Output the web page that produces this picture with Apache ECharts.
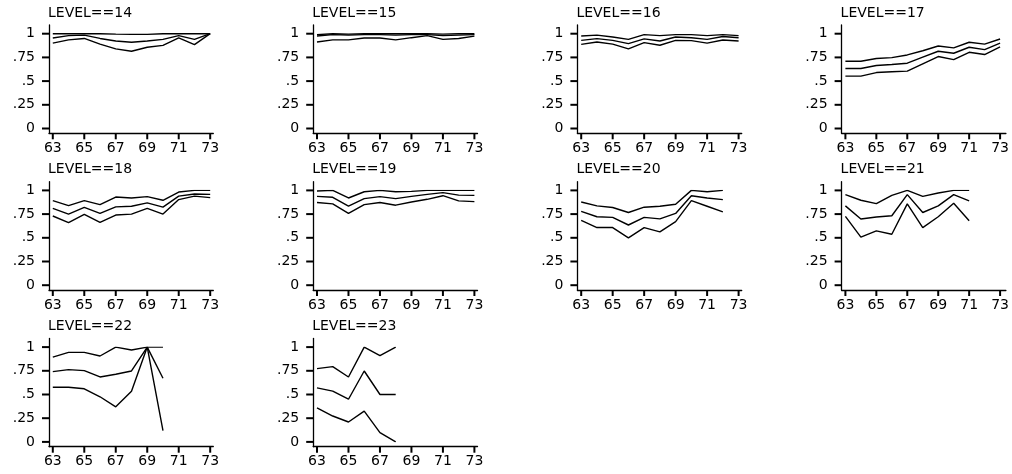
<!DOCTYPE html>
<html>
<head>
<meta charset="utf-8">
<script src="https://cdn.jsdelivr.net/npm/echarts@6/dist/echarts.min.js"></script>
<style>
html,body{margin:0;padding:0;background:#fff;}
#chart{width:1012px;height:474px;}
</style>
</head>
<body>
<div id="chart"></div>
<script>
// ---- data ----
var years = [63, 64, 65, 66, 67, 68, 69, 70, 71, 72, 73];
var xTickLabels = [63, 65, 67, 69, 71, 73];
var yTickValues = [0, 0.25, 0.5, 0.75, 1];
var levels = [14, 15, 16, 17, 18, 19, 20, 21, 22, 23];

var L14_hi  = [1.00, 1.00, 1.00, 1.00, 0.995, 0.993, 0.993, 1.00, 1.00, 1.00, 1.00];
var L14_mid = [0.955, 0.98, 0.985, 0.95, 0.923, 0.91, 0.923, 0.94, 0.98, 0.94, 1.00];
var L14_lo  = [0.90, 0.935, 0.95, 0.89, 0.84, 0.815, 0.857, 0.877, 0.955, 0.885, 1.00];

var L15_hi  = [0.99, 1.00, 0.995, 1.00, 1.00, 1.00, 1.00, 1.00, 0.995, 1.00, 1.00];
var L15_mid = [0.975, 0.99, 0.985, 0.99, 0.99, 0.985, 0.99, 0.99, 0.98, 0.985, 0.99];
var L15_lo  = [0.913, 0.935, 0.935, 0.955, 0.955, 0.935, 0.958, 0.98, 0.94, 0.95, 0.975];

var L16_hi  = [0.975, 0.985, 0.965, 0.94, 0.99, 0.98, 0.99, 0.99, 0.98, 0.99, 0.98];
var L16_mid = [0.93, 0.948, 0.93, 0.895, 0.945, 0.923, 0.965, 0.958, 0.94, 0.97, 0.958];
var L16_lo  = [0.888, 0.913, 0.89, 0.84, 0.906, 0.878, 0.93, 0.927, 0.90, 0.934, 0.923];

var L17_hi  = [0.71, 0.71, 0.738, 0.748, 0.776, 0.82, 0.87, 0.85, 0.91, 0.89, 0.944];
var L17_mid = [0.633, 0.633, 0.664, 0.675, 0.689, 0.752, 0.815, 0.794, 0.857, 0.832, 0.90];
var L17_lo  = [0.552, 0.552, 0.59, 0.598, 0.605, 0.682, 0.759, 0.727, 0.804, 0.78, 0.86];

var L18_hi  = [0.892, 0.84, 0.892, 0.85, 0.93, 0.92, 0.934, 0.896, 0.983, 1.00, 1.00];
var L18_mid = [0.81, 0.75, 0.82, 0.757, 0.826, 0.833, 0.868, 0.823, 0.94, 0.962, 0.958];
var L18_lo  = [0.73, 0.66, 0.747, 0.663, 0.74, 0.75, 0.81, 0.75, 0.903, 0.94, 0.924];

var L19_hi  = [0.993, 1.00, 0.92, 0.986, 1.00, 0.986, 0.99, 1.00, 1.00, 1.00, 1.00];
var L19_mid = [0.937, 0.927, 0.833, 0.913, 0.934, 0.913, 0.937, 0.958, 0.976, 0.95, 0.948];
var L19_lo  = [0.872, 0.858, 0.757, 0.85, 0.872, 0.844, 0.878, 0.906, 0.944, 0.889, 0.882];

var L20_hi  = [0.878, 0.837, 0.82, 0.767, 0.823, 0.833, 0.854, 1.00, 0.986, 1.00];
var L20_mid = [0.778, 0.722, 0.715, 0.635, 0.715, 0.70, 0.757, 0.944, 0.92, 0.903];
var L20_lo  = [0.684, 0.608, 0.608, 0.50, 0.608, 0.562, 0.67, 0.892, 0.833, 0.774];

var L21_hi  = [0.955, 0.896, 0.86, 0.948, 1.00, 0.937, 0.972, 1.00, 1.00];
var L21_mid = [0.837, 0.698, 0.719, 0.733, 0.955, 0.767, 0.837, 0.955, 0.889];
var L21_lo  = [0.726, 0.507, 0.573, 0.538, 0.858, 0.608, 0.722, 0.865, 0.68];

var L22_hi  = [0.895, 0.944, 0.944, 0.906, 1.00, 0.969, 1.00, 1.00];
var L22_mid = [0.741, 0.762, 0.752, 0.685, 0.713, 0.748, 1.00, 0.671];
var L22_lo  = [0.577, 0.577, 0.56, 0.476, 0.37, 0.535, 1.00, 0.119];

var L23_hi  = [0.773, 0.794, 0.685, 1.00, 0.909, 1.00];
var L23_mid = [0.57, 0.535, 0.45, 0.748, 0.50, 0.50];
var L23_lo  = [0.36, 0.273, 0.21, 0.325, 0.098, 0.00];

var panelSeries = [
  [L14_hi, L14_mid, L14_lo],
  [L15_hi, L15_mid, L15_lo],
  [L16_hi, L16_mid, L16_lo],
  [L17_hi, L17_mid, L17_lo],
  [L18_hi, L18_mid, L18_lo],
  [L19_hi, L19_mid, L19_lo],
  [L20_hi, L20_mid, L20_lo],
  [L21_hi, L21_mid, L21_lo],
  [L22_hi, L22_mid, L22_lo],
  [L23_hi, L23_mid, L23_lo]
];

// ---- layout ----
var FONT = 'DejaVu Sans';
var colStep = 264.2, rowStep = 156.7;
var oLeft0 = 49, oTop0 = 25, oW = 164.3, oH = 108.3;
var iLeftOff = 3.8, iTopOff = 8.7, iW = 157.4, iH = 94.8;
var xOffset = oH - iTopOff - iH;
var yOffset = iLeftOff;
var xTickLen = 6, yTickLen = 7;

var grids = [], xAxes = [], yAxes = [], titles = [], series = [], innerIdx = [];
function yFmt(v) {
  if (Math.abs(v) < 1e-9) return '0';
  if (Math.abs(v - 1) < 1e-9) return '1';
  return String(v).replace(/^0/, '');
}

levels.forEach(function (lv, i) {
  var c = i % 4, r = Math.floor(i / 4);
  var left = oLeft0 + colStep * c, top = oTop0 + rowStep * r;
  var gi = grids.length;
  grids.push({left: left, top: top, width: oW, height: oH, containLabel: false});
  xAxes.push({type: 'value', gridIndex: gi, min: 0, max: 1,
    axisLine: {show: true, onZero: false, lineStyle: {color: '#000', width: 1.3}},
    axisTick: {show: false}, axisLabel: {show: false}, splitLine: {show: false}});
  yAxes.push({type: 'value', gridIndex: gi, min: 0, max: 1,
    axisLine: {show: true, onZero: false, lineStyle: {color: '#000', width: 1.3}},
    axisTick: {show: false}, axisLabel: {show: false}, splitLine: {show: false}});
  var gj = grids.length;
  innerIdx.push(gj);
  grids.push({left: left + iLeftOff, top: top + iTopOff, width: iW, height: iH, containLabel: false});
  xAxes.push({
    type: 'value', gridIndex: gj, min: 63, max: 73, interval: 2, offset: xOffset,
    axisLine: {show: false, onZero: false},
    axisTick: {show: false},
    axisLabel: {show: true, margin: 8, showMinLabel: true, showMaxLabel: true,
      fontFamily: FONT, fontSize: 14, color: '#000'},
    splitLine: {show: false}
  });
  yAxes.push({
    type: 'value', gridIndex: gj, min: 0, max: 1, interval: 0.25, offset: yOffset,
    axisLine: {show: false, onZero: false},
    axisTick: {show: false},
    axisLabel: {show: true, margin: 14, showMinLabel: true, showMaxLabel: true,
      fontFamily: FONT, fontSize: 14, color: '#000', formatter: yFmt},
    splitLine: {show: false}
  });
  titles.push({
    text: 'LEVEL==' + lv,
    left: left - 1, top: top - 19,
    padding: 0,
    textStyle: {fontFamily: FONT, fontSize: 14, fontWeight: 'normal', color: '#000'}
  });
  panelSeries[i].forEach(function (arr) {
    series.push({
      type: 'line', xAxisIndex: gj, yAxisIndex: gj,
      data: arr.map(function (v, k) { return [years[k], v]; }),
      showSymbol: false, symbol: 'none', silent: true, animation: false,
      lineStyle: {color: '#000', width: 1.4}
    });
  });
});

var chart = echarts.init(document.getElementById('chart'), null, {renderer: 'canvas'});
chart.setOption({
  backgroundColor: '#fff',
  animation: false,
  title: titles,
  grid: grids,
  xAxis: xAxes,
  yAxis: yAxes,
  series: series
});

// tick marks: positions obtained from each panel's own axes
var tickGraphics = [];
innerIdx.forEach(function (gj) {
  var finder = {xAxisIndex: gj, yAxisIndex: gj};
  xTickLabels.forEach(function (v) {
    var p = chart.convertToPixel(finder, [v, 0]);
    var y0 = p[1] + xOffset;
    tickGraphics.push({type: 'line', silent: true, z: 50,
      shape: {x1: p[0], y1: y0, x2: p[0], y2: y0 + xTickLen},
      style: {stroke: '#000', lineWidth: 2}});
  });
  yTickValues.forEach(function (v) {
    var p = chart.convertToPixel(finder, [63, v]);
    var x0 = p[0] - yOffset;
    tickGraphics.push({type: 'line', silent: true, z: 50,
      shape: {x1: x0, y1: p[1], x2: x0 - yTickLen, y2: p[1]},
      style: {stroke: '#000', lineWidth: 2}});
  });
});
chart.setOption({graphic: tickGraphics});
</script>
</body>
</html>
